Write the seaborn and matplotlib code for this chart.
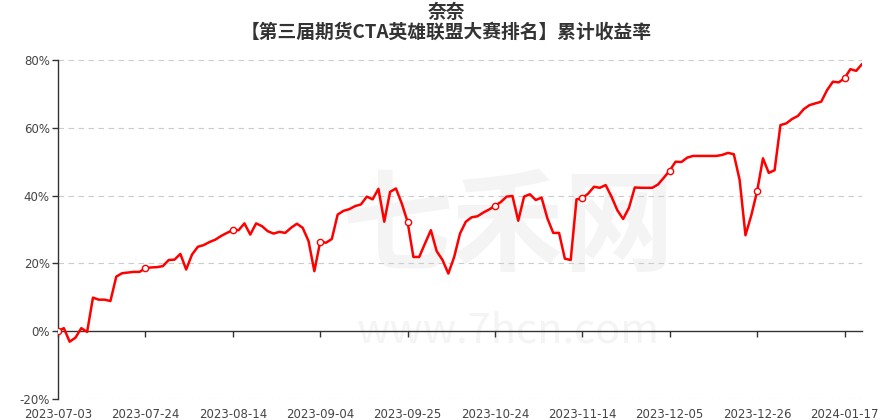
import numpy as np
import pandas as pd
import matplotlib
matplotlib.use('Agg')
import matplotlib.pyplot as plt
import seaborn as sns

# cumulative return (%) per trading day, 2023-07-03 .. 2024-01-22
returns = [
    0.0, 0.9, -3.1, -1.9, 0.9, -0.2, 9.9, 9.3, 9.3, 8.9,
    16.1, 17.1, 17.3, 17.5, 17.5, 18.6, 18.8, 18.9, 19.2, 21.0,
    21.1, 22.8, 18.2, 22.6, 24.9, 25.4, 26.3, 27.0, 28.1, 29.0,
    29.8, 29.8, 31.8, 28.5, 31.8, 31.0, 29.5, 28.8, 29.3, 29.0,
    30.5, 31.7, 30.5, 26.6, 17.7, 26.4, 26.1, 27.2, 34.4, 35.5,
    36.0, 36.9, 37.4, 39.7, 38.9, 42.0, 32.3, 41.1, 42.1, 37.7,
    32.3, 21.9, 21.9, 25.9, 29.8, 23.6, 21.0, 17.0, 21.9, 28.8,
    32.3, 33.6, 33.9, 35.0, 35.9, 37.0, 38.1, 39.7, 39.9, 32.6,
    39.7, 40.4, 38.7, 39.4, 33.3, 29.0, 29.0, 21.4, 21.0, 38.9,
    39.2, 40.6, 42.6, 42.3, 43.1, 39.7, 35.7, 33.1, 36.4, 42.4,
    42.3, 42.3, 42.3, 43.3, 45.3, 47.4, 50.0, 49.9, 51.2, 51.7,
    51.7, 51.7, 51.7, 51.7, 52.0, 52.6, 52.2, 44.6, 28.3, 34.2,
    41.3, 51.0, 46.7, 47.5, 60.8, 61.3, 62.6, 63.5, 65.5, 66.7,
    67.2, 67.7, 71.1, 73.6, 73.4, 74.6, 77.3, 76.8, 78.8,
]
tick_labels = ['2023-07-03', '2023-07-24', '2023-08-14', '2023-09-04', '2023-09-25',
               '2023-10-24', '2023-11-14', '2023-12-05', '2023-12-26', '2024-01-17']
y_ticks = [-20, 0, 20, 40, 60, 80]

df = pd.DataFrame({'idx': np.arange(len(returns)), 'ret': returns})

sns.set_style('white')
plt.rcParams['font.family'] = ['Noto Sans CJK SC', 'DejaVu Sans']

fig = plt.figure(figsize=(8.92, 4.2), dpi=100)
ax = fig.add_axes([58 / 892, 21 / 420, 804 / 892, 339 / 420])

# faint watermark
ax.text(0.56, 0.5, '七禾网', transform=ax.transAxes, fontsize=80, color='#f4f4f4',
        ha='center', va='center', fontweight='bold', zorder=0)
ax.text(0.56, 0.2, 'www.7hcn.com', transform=ax.transAxes, fontsize=30, color='#f4f4f4',
        ha='center', va='center', zorder=0)

for v in y_ticks:
    if v != 0:
        ax.axhline(v, color='#cccccc', lw=0.8, ls=(0, (5, 4)), zorder=1)

sns.lineplot(data=df, x='idx', y='ret', ax=ax, color='#ff0000', lw=1.8,
             marker='o', markevery=15, markersize=4.5, markerfacecolor='white',
             markeredgecolor='#ff0000', markeredgewidth=1.0, zorder=3)

ax.set_xlim(0, len(returns) - 1)
ax.set_ylim(-20, 80)
ax.set_yticks(y_ticks)
ax.set_yticklabels([f'{v}%' for v in y_ticks])
ax.set_xticks(np.arange(0, len(returns), 15))
ax.set_xticklabels(tick_labels)

for s in ['top', 'right']:
    ax.spines[s].set_visible(False)
ax.spines['left'].set_color('#333333')
ax.spines['left'].set_linewidth(1.0)
ax.spines['bottom'].set_position(('data', 0))
ax.spines['bottom'].set_color('#333333')
ax.spines['bottom'].set_linewidth(1.0)

ax.tick_params(axis='y', direction='out', length=4, width=1, color='#333333',
               labelsize=8.5, labelcolor='#444444', pad=2, left=True)
ax.tick_params(axis='x', direction='out', length=4, width=1, color='#333333',
               labelsize=8.5, labelcolor='#444444', pad=51, bottom=True)
for lab in ax.get_xticklabels() + ax.get_yticklabels():
    lab.set_family(['DejaVu Sans'])

ax.set_xlabel('')
ax.set_ylabel('')

fig.text(0.5, 1 - 13 / 420, '奈奈', ha='center', va='center', fontsize=13.5,
         fontweight='bold', color='#333333')
fig.text(0.5, 1 - 32 / 420, '【第三届期货CTA英雄联盟大赛排名】累计收益率', ha='center',
         va='center', fontsize=13.5, fontweight='bold', color='#333333')

fig.savefig('out.png', dpi=100)
plt.close(fig)
